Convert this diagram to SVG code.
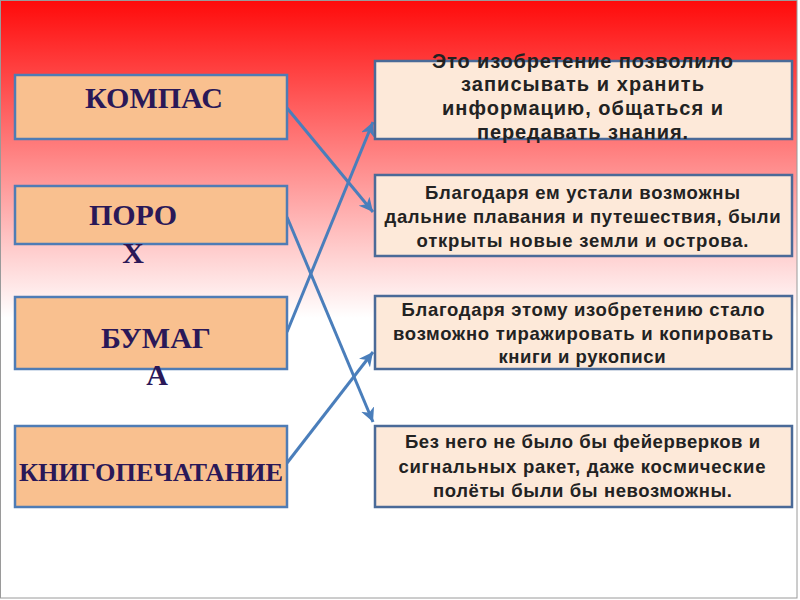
<svg xmlns="http://www.w3.org/2000/svg" width="800" height="600" viewBox="0 0 800 600">
  <defs>
    <linearGradient id="bg" x1="0" y1="0" x2="0" y2="318" gradientUnits="userSpaceOnUse">
      <stop offset="0" stop-color="#ff0a0a"/>
      <stop offset="0.45" stop-color="#ff7a7a"/>
      <stop offset="0.8" stop-color="#ffd0d0"/>
      <stop offset="1" stop-color="#ffffff"/>
    </linearGradient>
    <marker id="arr" markerUnits="userSpaceOnUse" markerWidth="16" markerHeight="14" refX="14" refY="7" orient="auto">
      <path d="M0,0 L14,7 L0,14 L4,7 z" fill="#4a7ebb"/>
    </marker>
    <style>
      .lbox { fill: #f9c08f; stroke: #4f7cb5; stroke-width: 2.5; }
      .rbox { fill: #fde9d9; stroke: #4a6a98; stroke-width: 2.5; }
      .ltxt { font-family: "Liberation Serif", "Times New Roman", serif; font-weight: bold; font-size: 30px; fill: #2a1858; text-anchor: middle; }
      .rtxt { font-family: "Liberation Sans", Arial, sans-serif; font-weight: bold; font-size: 18.5px; fill: #222222; text-anchor: middle; }
      .big { font-size: 20px; }
      .conn { stroke: #4a7ebb; stroke-width: 3; fill: none; marker-end: url(#arr); }
    </style>
  </defs>

  <rect x="0" y="0" width="800" height="600" fill="#ffffff"/>
  <rect x="0" y="0" width="797" height="598" fill="url(#bg)"/>
  <rect x="0.5" y="0.5" width="796.5" height="597.5" fill="none" stroke="#9a9a9a" stroke-width="1"/>

  <g id="connectors">
    <line class="conn" x1="287" y1="108" x2="373" y2="212"/>
    <line class="conn" x1="287" y1="217" x2="373" y2="422"/>
    <line class="conn" x1="287" y1="332" x2="373" y2="122"/>
    <line class="conn" x1="287" y1="463" x2="373" y2="352"/>
  </g>

  <g id="kompas">
    <rect class="lbox" x="15" y="75" width="272" height="64"/>
    <text class="ltxt" x="154" y="108">КОМПАС</text>
  </g>
  <g id="porokh">
    <rect class="lbox" x="15" y="186" width="272" height="58"/>
    <text class="ltxt" x="133" y="225">ПОРО</text>
    <text class="ltxt" x="133" y="263">Х</text>
  </g>
  <g id="bumaga">
    <rect class="lbox" x="15" y="297" width="272" height="72"/>
    <text class="ltxt" x="156" y="348">БУМАГ</text>
    <text class="ltxt" x="157" y="385">А</text>
  </g>
  <g id="knigopechatanie">
    <rect class="lbox" x="15" y="426" width="272" height="81"/>
    <text class="ltxt" x="151" y="481" style="font-size:26px" textLength="264" lengthAdjust="spacingAndGlyphs">КНИГОПЕЧАТАНИЕ</text>
  </g>

  <g id="box-paper">
    <rect class="rbox" x="375" y="61" width="417" height="78"/>
    <text class="rtxt big" x="582.5" y="67.5" textLength="301" lengthAdjust="spacing">Это изобретение позволило</text>
    <text class="rtxt big" x="582.5" y="91" textLength="243" lengthAdjust="spacing">записывать и хранить</text>
    <text class="rtxt big" x="582.5" y="115" textLength="281" lengthAdjust="spacing">информацию, общаться и</text>
    <text class="rtxt big" x="582.5" y="139" textLength="211" lengthAdjust="spacing">передавать знания.</text>
  </g>
  <g id="box-compass">
    <rect class="rbox" x="375" y="175" width="417" height="81"/>
    <text class="rtxt" x="582.5" y="199" textLength="315" lengthAdjust="spacing">Благодаря ем устали возможны</text>
    <text class="rtxt" x="582.5" y="223" textLength="396" lengthAdjust="spacing">дальние плавания и путешествия, были</text>
    <text class="rtxt" x="582.5" y="247" textLength="332" lengthAdjust="spacing">открыты новые земли и острова.</text>
  </g>
  <g id="box-print">
    <rect class="rbox" x="375" y="296" width="417" height="73"/>
    <text class="rtxt" x="583" y="316" textLength="363" lengthAdjust="spacing">Благодаря этому изобретению стало</text>
    <text class="rtxt" x="583" y="340" textLength="380" lengthAdjust="spacing">возможно тиражировать и копировать</text>
    <text class="rtxt" x="582" y="363" textLength="167" lengthAdjust="spacing">книги и рукописи</text>
  </g>
  <g id="box-powder">
    <rect class="rbox" x="375" y="426" width="417" height="81"/>
    <text class="rtxt" x="582.5" y="448" textLength="355" lengthAdjust="spacing">Без него не было бы фейерверков и</text>
    <text class="rtxt" x="582" y="473" textLength="367" lengthAdjust="spacing">сигнальных ракет, даже космические</text>
    <text class="rtxt" x="582.5" y="497" textLength="299" lengthAdjust="spacing">полёты были бы невозможны.</text>
  </g>
</svg>
